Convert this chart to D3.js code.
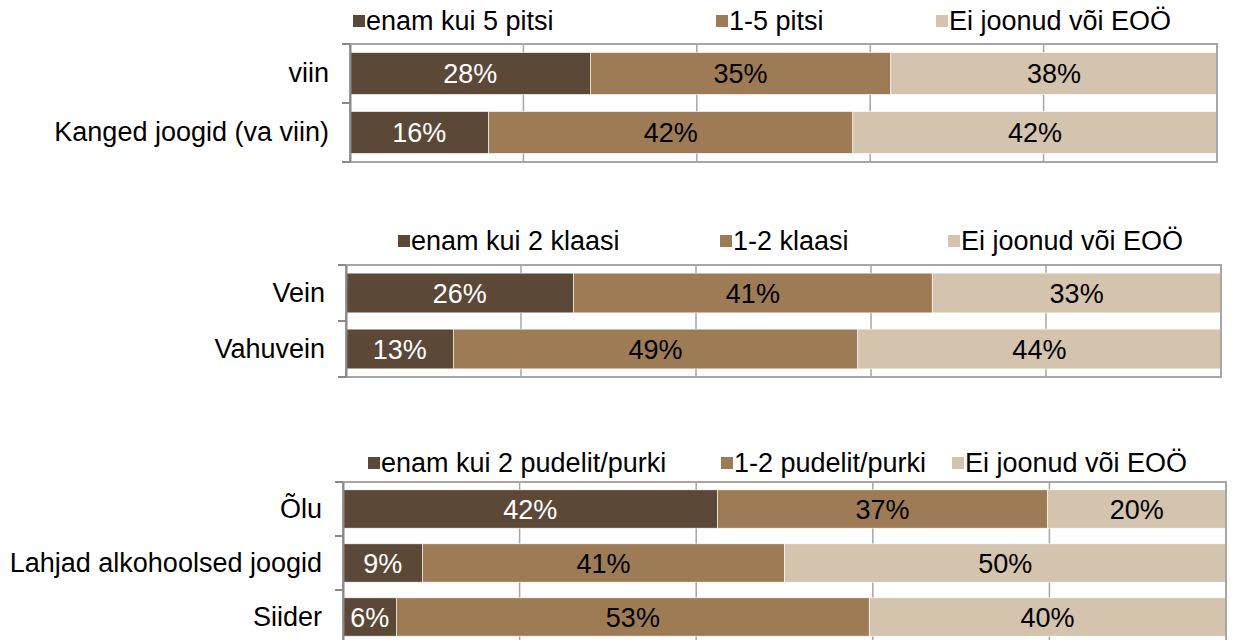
<!DOCTYPE html>
<html>
<head>
<meta charset="utf-8">
<script src="https://cdn.jsdelivr.net/npm/d3@7"></script>
<style>
    body { margin: 0; background: #fff; }
    svg { display: block; font-family: "Liberation Sans", Arial, sans-serif; }
</style>
</head>
<body>
<svg id="chart" width="1233" height="640"></svg>
<script>
// kanged joogid
var strongCategories = ["viin", "Kanged joogid (va viin)"];
var strongSeries = ["enam kui 5 pitsi", "1-5 pitsi", "Ei joonud või EOÖ"];
var strongValues = [[28, 35, 38], [16, 42, 42]];

// vein
var wineCategories = ["Vein", "Vahuvein"];
var wineSeries = ["enam kui 2 klaasi", "1-2 klaasi", "Ei joonud või EOÖ"];
var wineValues = [[26, 41, 33], [13, 49, 44]];

// õlu jms
var beerCategories = ["Õlu", "Lahjad alkohoolsed joogid", "Siider"];
var beerSeries = ["enam kui 2 pudelit/purki", "1-2 pudelit/purki", "Ei joonud või EOÖ"];
var beerValues = [[42, 37, 20], [9, 41, 50], [6, 53, 40]];

var gridTicks = [0, 0.2, 0.4, 0.6, 0.8, 1];

var colors = ["#5c4837", "#9d7c55", "#d4c3ad"];
var labelColors = ["#ffffff", "#000000", "#000000"];

var panels = [
    {cats: strongCategories, series: strongSeries, values: strongValues,
        x0: 350, x1: 1217, y0: 44, y1: 162, legendY: 20, legendX: [353, 716, 936]},
    {cats: wineCategories, series: wineSeries, values: wineValues,
        x0: 346, x1: 1221, y0: 265, y1: 377, legendY: 240, legendX: [398, 720, 948]},
    {cats: beerCategories, series: beerSeries, values: beerValues,
        x0: 343, x1: 1226, y0: 482, y1: 644, legendY: 462, legendX: [368, 721, 952]}
];

var svg = d3.select("#chart");
var fontSize = 27;

panels.forEach(function (p) {
    var g = svg.append("g");

    var rows = p.cats.map(function (c, i) {
        var row = {cat: c};
        p.series.forEach(function (s, j) { row[s] = p.values[i][j]; });
        return row;
    });

    var stack = d3.stack()
        .keys(p.series)
        .offset(d3.stackOffsetExpand);
    var layers = stack(rows);

    var x = d3.scaleLinear().domain([0, 1]).range([p.x0, p.x1]);
    var y = d3.scaleBand().domain(p.cats).range([p.y0, p.y1])
        .paddingInner(0.29).paddingOuter(0.145);

    // grid
    g.selectAll(".grid")
        .data(gridTicks.slice(1, -1))
        .enter().append("line")
        .attr("x1", function (d) { return x(d); })
        .attr("x2", function (d) { return x(d); })
        .attr("y1", p.y0).attr("y2", p.y1)
        .attr("stroke", "#a6a6a6").attr("stroke-width", 1.5);

    // bars
    var layer = g.selectAll(".layer")
        .data(layers)
        .enter().append("g")
        .attr("fill", function (d, i) { return colors[i]; });

    layer.selectAll("rect")
        .data(function (d) { return d; })
        .enter().append("rect")
        .attr("x", function (d) { return x(d[0]); })
        .attr("width", function (d) { return x(d[1]) - x(d[0]); })
        .attr("y", function (d) { return y(d.data.cat); })
        .attr("height", y.bandwidth())
        .attr("stroke", "#ffffff").attr("stroke-width", 0.6);

    layers.forEach(function (l, i) {
        g.selectAll(".lbl" + i)
            .data(l)
            .enter().append("text")
            .attr("x", function (d) { return (x(d[0]) + x(d[1])) / 2; })
            .attr("y", function (d) { return y(d.data.cat) + y.bandwidth() / 2; })
            .attr("dy", "0.36em")
            .attr("text-anchor", "middle")
            .attr("font-size", fontSize)
            .attr("fill", labelColors[i])
            .text(function (d) { return d.data[l.key] + "%"; });
    });

    // frame
    g.append("rect")
        .attr("x", p.x0).attr("y", p.y0)
        .attr("width", p.x1 - p.x0).attr("height", p.y1 - p.y0)
        .attr("fill", "none").attr("stroke", "#a6a6a6").attr("stroke-width", 2);

    // left axis, category labels
    var yAxis = d3.axisLeft(y).tickSize(0).tickPadding(21).tickSizeOuter(0);
    var ax = g.append("g")
        .attr("transform", "translate(" + p.x0 + ",0)")
        .call(yAxis);
    ax.select(".domain").attr("stroke", "#888888").attr("stroke-width", 2);
    ax.selectAll(".tick text")
        .attr("font-size", fontSize)
        .attr("font-family", "Liberation Sans, Arial, sans-serif")
        .attr("fill", "#000");

    // ticks between categories
    var bounds = p.cats.map(function (c) { return y(c) - y.step() * 0.145; });
    bounds.push(p.y1);
    g.selectAll(".btick")
        .data(bounds)
        .enter().append("line")
        .attr("x1", p.x0 - 8).attr("x2", p.x0)
        .attr("y1", function (d) { return d; })
        .attr("y2", function (d) { return d; })
        .attr("stroke", "#888888").attr("stroke-width", 2);

    // legend
    var leg = g.selectAll(".leg")
        .data(p.series)
        .enter().append("g")
        .attr("transform", function (d, i) {
            return "translate(" + p.legendX[i] + "," + p.legendY + ")";
        });
    leg.append("rect")
        .attr("x", 0).attr("y", -5)
        .attr("width", 12).attr("height", 12)
        .attr("fill", function (d, i) { return colors[i]; });
    leg.append("text")
        .attr("x", 13).attr("y", 0)
        .attr("dy", "0.36em")
        .attr("font-size", fontSize)
        .text(function (d) { return d; });
});
</script>
</body>
</html>
